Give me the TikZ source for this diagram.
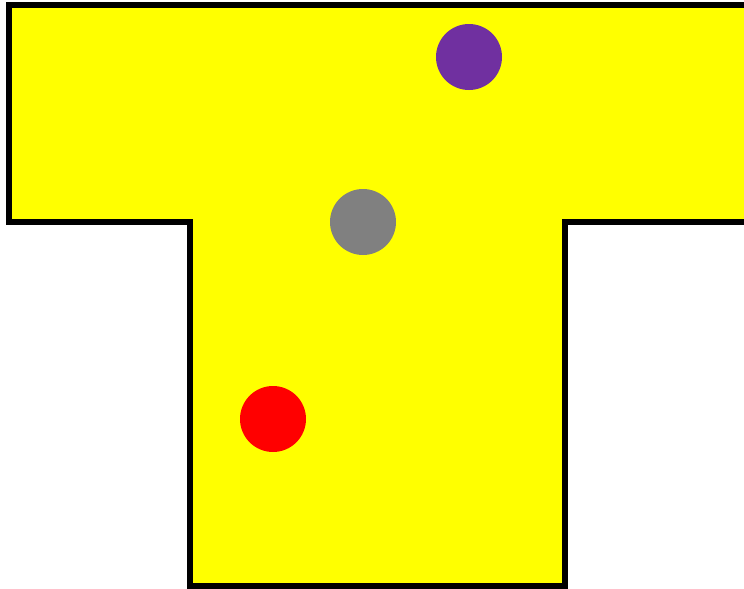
\documentclass[tikz,border=0pt]{standalone}
\definecolor{tyellow}{RGB}{255,255,0}
\definecolor{tpurple}{RGB}{112,48,160}
\definecolor{tgrey}{RGB}{128,128,128}
\definecolor{tred}{RGB}{255,0,0}
\tikzset{every picture/.style={line width=0.75pt}}
\tikzset{ball/.style={circle,inner sep=0pt,minimum size=66*0.75pt}}

\begin{document}
\begin{tikzpicture}[x=0.75pt,y=0.75pt,yscale=-1,xscale=1]
\useasboundingbox (0,0) rectangle (744,589);
\clip (0,0) rectangle (744,589);

%Shape: T outline
\draw [fill=tyellow, line width=4] (752,5) -- (9,5) -- (9,222) -- (190,222) -- (190,586) -- (565,586) -- (565,222) -- (752,222) ;

%Balls
\node [ball, fill=tpurple] (purple) at (469,57) {};
\node [ball, fill=tgrey] (grey) at (363,222) {};
\node [ball, fill=tred] (red) at (273,419) {};

\end{tikzpicture}
\end{document}
